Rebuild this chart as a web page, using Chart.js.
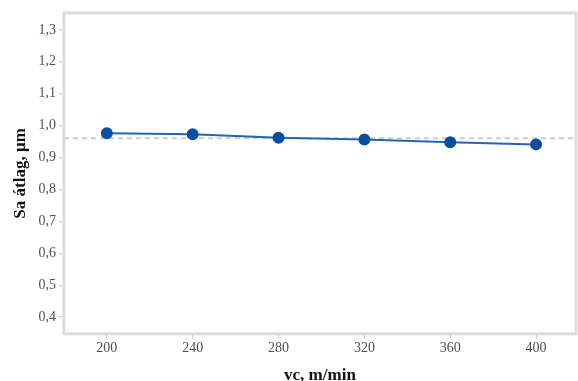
<!DOCTYPE html>
<html>
<head>
<meta charset="utf-8">
<script src="https://cdn.jsdelivr.net/npm/chart.js@4/dist/chart.umd.min.js"></script>
<style>
  body { margin: 0; background: #fff; }
  #wrap { width: 578px; height: 381px; }
</style>
</head>
<body>
<div id="wrap"><canvas id="myChart"></canvas></div>
<script>
// data
const speeds = [200, 240, 280, 320, 360, 400];
const saMean = [0.976, 0.973, 0.962, 0.956, 0.948, 0.941];
const grandMean = 0.96;
const xTicks = [200, 240, 280, 320, 360, 400];
const yTicks = [0.4, 0.5, 0.6, 0.7, 0.8, 0.9, 1.0, 1.1, 1.2, 1.3];

const points = speeds.map((s, i) => ({ x: s, y: saMean[i] }));

// box round the plot area + dashed mean line
const boxPlugin = {
  id: 'box',
  beforeDatasetsDraw(chart) {
    const ctx = chart.ctx;
    const a = chart.chartArea;
    const y = chart.scales.y.getPixelForValue(grandMean);
    ctx.save();
    ctx.strokeStyle = '#cccccc';
    ctx.lineWidth = 2;
    ctx.setLineDash([5, 4]);
    ctx.beginPath();
    ctx.moveTo(a.left, y);
    ctx.lineTo(a.right, y);
    ctx.stroke();
    ctx.setLineDash([]);
    ctx.strokeStyle = '#dcdcdc';
    ctx.lineWidth = 3;
    ctx.strokeRect(a.left, a.top, a.right - a.left, a.bottom - a.top);
    ctx.restore();
  }
};

const tickFont = { family: '"Liberation Serif", serif', size: 14 };
const titleFont = { family: '"Liberation Serif", serif', size: 17, weight: 'bold' };

new Chart(document.getElementById('myChart'), {
  type: 'line',
  data: {
    datasets: [{
      data: points,
      borderColor: '#2266b8',
      borderWidth: 2,
      pointBackgroundColor: '#0a4fa0',
      pointBorderColor: '#0a4fa0',
      pointRadius: 5,
      tension: 0
    }]
  },
  options: {
    responsive: true,
    maintainAspectRatio: false,
    animation: false,
    layout: { autoPadding: false, padding: { top: 13, right: 2, bottom: -5, left: 10 } },
    plugins: { legend: { display: false }, tooltip: { enabled: false } },
    scales: {
      x: {
        type: 'linear',
        min: 180,
        max: 418.6,
        afterBuildTicks(s) { s.ticks = xTicks.map(v => ({ value: v })); },
        ticks: { font: tickFont, color: '#505050', padding: 1 },
        grid: { drawOnChartArea: false, drawTicks: true, tickLength: 5, color: '#cccccc' },
        border: { display: false },
        title: { display: true, text: 'vc, m/min', font: titleFont, color: '#111', padding: { top: 8, bottom: 0 } }
      },
      y: {
        min: 0.347,
        max: 1.353,
        afterBuildTicks(s) { s.ticks = yTicks.map(v => ({ value: v })); },
        ticks: {
          font: tickFont, color: '#505050', padding: 3,
          callback: v => v.toFixed(1).replace('.', ',')
        },
        grid: { drawOnChartArea: false, drawTicks: true, tickLength: 5, color: '#cccccc' },
        border: { display: false },
        title: { display: true, text: 'Sa átlag, µm', font: titleFont, color: '#111', padding: { top: 0, bottom: 5 } }
      }
    }
  },
  plugins: [boxPlugin]
});
</script>
</body>
</html>
